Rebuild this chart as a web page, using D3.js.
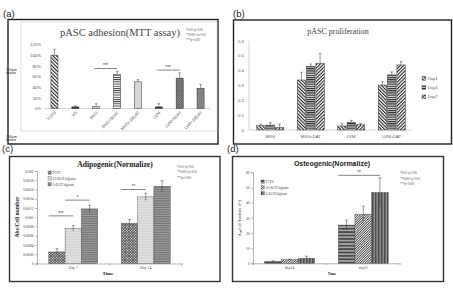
<!DOCTYPE html>
<html>
<head>
<meta charset="utf-8">
<script src="https://cdn.jsdelivr.net/npm/d3@7"></script>
<style>
body { margin: 0; background: #fff; }
svg { display: block; }
</style>
</head>
<body>
<script>
// ---- data ----
// (a) adhesion, % of TCPS
var adhCats = ["TCPS", "VS", "MVG", "MVG+5DAT", "MVG+10DAT", "LVM", "LVM+5DAT", "LVM+10DAT"];
var adhVals = [100, 3, 4, 64, 50, 3, 57, 38];
var adhErr  = [11, 2, 5, 6, 4, 6, 10, 7];
var adhTicks = [0, 20, 40, 60, 80, 100, 120];
var adhSig = [["MVG", "MVG+5DAT", 75, "***"], ["LVM", "LVM+5DAT", 72, "***"]];

// (b) proliferation
var prolCats = ["MVG", "MVG+DAT", "LVM", "LVM+DAT"];
var prolSeries = ["Day1", "Day4", "Day7"];
var prolDay1 = [0.029, 0.336, 0.027, 0.302];
var prolDay4 = [0.033, 0.428, 0.052, 0.37];
var prolDay7 = [0.016, 0.448, 0.035, 0.437];
var prolErr1 = [0.01, 0.052, 0.018, 0.023];
var prolErr4 = [0.017, 0.015, 0.013, 0.02];
var prolErr7 = [0.024, 0.067, 0.01, 0.022];
var prolTicks = [0, 0.1, 0.2, 0.3, 0.4, 0.5, 0.6];

// (c) adipogenic
var adiCats = ["Day 7", "Day 14"];
var adiSeries = ["TCPS", "10×DAT/alginate", "5×DAT/alginate"];
var adiTCPS = [0.00025, 0.00087];
var adi10 = [0.00076, 0.00144];
var adi5 = [0.00118, 0.00167];
var adiErrTCPS = [0.00007, 0.00008];
var adiErr10 = [0.00006, 0.00008];
var adiErr5 = [0.00008, 0.00012];
var adiTicks = d3.range(0, 0.00201, 0.0002);
var adiSig = [["Day 7", 0, 1, 0.00103, "***"], ["Day 7", 1, 2, 0.00137, "*"], ["Day 14", 0, 1, 0.0016, "**"]];

// (d) osteogenic
var ostCats = ["day14", "day21"];
var ostTCPS = [1.4, 25.2];
var ost10 = [2.4, 32.4];
var ost5 = [3.3, 46.7];
var ostErrTCPS = [0.3, 3.3];
var ostErr10 = [0.4, 5.3];
var ostErr5 = [1.4, 9.6];
var ostTicks = [0, 10, 20, 30, 40, 50, 60];
var ostSig = [["day21", 0, 2, 58, "**"]];

var pLabels = ["*0.01<p<0.05", "**0.001<p<0.01", "***p<0.001"];

var SANS = "Liberation Sans, Arial, sans-serif";
var SERIF = "Liberation Serif, Times New Roman, serif";

var svg = d3.select("body").append("svg")
    .attr("width", 453)
    .attr("height", 291);
var defs = svg.append("defs");

// stripes: angle 0 = vertical, 90 = horizontal
function stripe(id, bg, fg, size, lw, angle) {
    var p = defs.append("pattern").attr("id", id)
        .attr("patternUnits", "userSpaceOnUse")
        .attr("width", size).attr("height", size)
        .attr("patternTransform", "rotate(" + angle + ")");
    p.append("rect").attr("width", size).attr("height", size).attr("fill", bg);
    p.append("rect").attr("width", lw).attr("height", size).attr("fill", fg);
}
function cross(id, bg, fg, size, lw, angle) {
    var p = defs.append("pattern").attr("id", id)
        .attr("patternUnits", "userSpaceOnUse")
        .attr("width", size).attr("height", size)
        .attr("patternTransform", "rotate(" + angle + ")");
    p.append("rect").attr("width", size).attr("height", size).attr("fill", bg);
    p.append("rect").attr("width", lw).attr("height", size).attr("fill", fg);
    p.append("rect").attr("width", size).attr("height", lw).attr("fill", fg);
}
function dots(id, bg, fg, size, r) {
    var p = defs.append("pattern").attr("id", id)
        .attr("patternUnits", "userSpaceOnUse")
        .attr("width", size).attr("height", size);
    p.append("rect").attr("width", size).attr("height", size).attr("fill", bg);
    p.append("circle").attr("cx", size / 2).attr("cy", size / 2).attr("r", r).attr("fill", fg);
}

stripe("aBack", "#fff", "#222", 2.6, 1.1, -45);
cross("aDark", "#555", "#222", 1.6, 0.6, 45);
dots("aDots", "#ddd", "#888", 1.6, 0.45);
stripe("aHor", "#fff", "#333", 2.2, 0.9, 90);
dots("aLight", "#e4e4e4", "#aaa", 1.4, 0.4);
cross("aCross", "#9a9a9a", "#555", 1.8, 0.6, 45);
dots("aGrey", "#8a8a8a", "#6a6a6a", 1.4, 0.4);

stripe("bBack", "#fff", "#222", 2.4, 1.1, -45);
stripe("bHor", "#ddd", "#222", 2.2, 1.1, 90);
stripe("bFwd", "#fff", "#222", 2.4, 1.1, 45);

cross("cDark", "#fff", "#444", 1.9, 0.8, 45);
dots("cLight", "#f2f2f2", "#999", 1.6, 0.5);
stripe("cHor", "#bbb", "#707070", 1.8, 1.2, 90);

stripe("dHor", "#aaa", "#4a4a4a", 3.4, 1.8, 90);
stripe("dFwd", "#fff", "#333", 1.7, 0.8, 45);
stripe("dVer", "#8c8c8c", "#4c4c4c", 3, 1.5, 0);

function panelLabel(x, y, t) {
    svg.append("text").attr("x", x).attr("y", y).text(t)
        .attr("font-family", SANS).attr("font-size", 9.5).attr("fill", "#222");
}
function frame(x0, y0, x1, y1, col, sw) {
    svg.append("rect").attr("x", x0).attr("y", y0)
        .attr("width", x1 - x0).attr("height", y1 - y0)
        .attr("fill", "none").attr("stroke", col).attr("stroke-width", sw);
}
function errBar(g, cx, yTop, yBot, cap) {
    g.append("line").attr("x1", cx).attr("x2", cx).attr("y1", yTop).attr("y2", yBot)
        .attr("stroke", "#333").attr("stroke-width", 0.5);
    g.append("line").attr("x1", cx - cap).attr("x2", cx + cap).attr("y1", yTop).attr("y2", yTop)
        .attr("stroke", "#333").attr("stroke-width", 0.5);
}
function sigLine(g, x1, x2, y, t, fs) {
    g.append("line").attr("x1", x1).attr("x2", x2).attr("y1", y).attr("y2", y)
        .attr("stroke", "#333").attr("stroke-width", 0.6);
    g.append("text").attr("x", (x1 + x2) / 2).attr("y", y - 1.2).text(t)
        .attr("text-anchor", "middle").attr("font-family", SANS)
        .attr("font-size", fs).attr("fill", "#333");
}
function pLegend(x, y, dy, fs) {
    svg.append("g").selectAll("text").data(pLabels).enter().append("text")
        .attr("x", x).attr("y", function(d, i) { return y + i * dy; })
        .text(function(d) { return d; })
        .attr("font-family", SERIF).attr("font-size", fs).attr("fill", "#444");
}

// ================= (a) =================
panelLabel(3, 17, "(a)");
frame(8, 19.5, 218, 144, "#222", 1.4);
frame(21, 22, 217, 131, "#c8c8c8", 0.6);

var gA = svg.append("g");
var xA = d3.scaleBand().domain(adhCats).range([44, 211]).paddingInner(0.66).paddingOuter(0.33);
var yA = d3.scaleLinear().domain([0, 120]).range([108.5, 44.5]);
var fillsA = ["aBack", "aDark", "aDots", "aHor", "aLight", "aDark", "aCross", "aGrey"];

gA.append("text").attr("x", 120).attr("y", 36).text("pASC adhesion(MTT assay)")
    .attr("text-anchor", "middle").attr("font-family", SERIF).attr("font-size", 10.5).attr("fill", "#444");

var axA = gA.append("g").attr("transform", "translate(41,0)")
    .call(d3.axisLeft(yA).tickValues(adhTicks).tickSize(0).tickPadding(0)
        .tickFormat(function(d) { return d + "%"; }));
axA.select(".domain").remove();
axA.selectAll("text").attr("font-family", SANS).attr("font-size", 4.3).attr("fill", "#555");

gA.append("line").attr("x1", 44).attr("x2", 211).attr("y1", yA(0)).attr("y2", yA(0))
    .attr("stroke", "#bbb").attr("stroke-width", 0.6);

gA.selectAll(".bar").data(adhCats).enter().append("rect")
    .attr("x", function(d) { return xA(d); })
    .attr("y", function(d, i) { return yA(adhVals[i]); })
    .attr("width", xA.bandwidth())
    .attr("height", function(d, i) { return yA(0) - yA(adhVals[i]); })
    .attr("fill", function(d, i) { return "url(#" + fillsA[i] + ")"; })
    .attr("stroke", "#333").attr("stroke-width", 0.5);

adhCats.forEach(function(c, i) {
    var cx = xA(c) + xA.bandwidth() / 2;
    errBar(gA, cx, yA(adhVals[i] + adhErr[i]), yA(adhVals[i]), 1.3);
    gA.append("text").attr("transform", "translate(" + (cx + 2) + "," + 113 + ") rotate(-45)")
        .attr("text-anchor", "end").text(c)
        .attr("font-family", SANS).attr("font-size", 4.2).attr("fill", "#555");
});
adhSig.forEach(function(s) {
    sigLine(gA, xA(s[0]) + xA.bandwidth() / 2 - 2, xA(s[1]) + xA.bandwidth() / 2, yA(s[2]), s[3], 4.5);
});
pLegend(186, 30.5, 5, 3);

// scale bar leftovers of the micrograph
svg.append("text").attr("x", 6).attr("y", 71).text("100μm")
    .attr("font-family", SANS).attr("font-size", 3.6).attr("fill", "#333");
svg.append("line").attr("x1", 6).attr("x2", 16).attr("y1", 73).attr("y2", 73).attr("stroke", "#333").attr("stroke-width", 0.8);
svg.append("text").attr("x", 6).attr("y", 138).text("100μm")
    .attr("font-family", SANS).attr("font-size", 3.6).attr("fill", "#333");
svg.append("line").attr("x1", 6).attr("x2", 16).attr("y1", 140).attr("y2", 140).attr("stroke", "#333").attr("stroke-width", 0.8);

// ================= (b) =================
panelLabel(233, 17, "(b)");
frame(233.5, 20, 451.5, 144, "#222", 1.4);

var gB = svg.append("g");
var xB = d3.scaleBand().domain(prolCats).range([250, 412]);
var xBi = d3.scaleBand().domain(prolSeries).range([-13.5, 13.5]).paddingInner(0.1);
var yB = d3.scaleLinear().domain([0, 0.6]).range([130, 40.7]);
var prolVals = [prolDay1, prolDay4, prolDay7];
var prolErrs = [prolErr1, prolErr4, prolErr7];
var fillsB = ["bBack", "bHor", "bFwd"];

gB.append("text").attr("x", 338).attr("y", 34).text("pASC proliferation")
    .attr("text-anchor", "middle").attr("font-family", SERIF).attr("font-size", 8).attr("fill", "#444");

var axB = gB.append("g").attr("transform", "translate(244,0)")
    .call(d3.axisLeft(yB).tickValues(prolTicks).tickSize(0).tickPadding(0)
        .tickFormat(function(d) { return d === 0 ? "0" : d3.format(".1f")(d); }));
axB.select(".domain").remove();
axB.selectAll("text").attr("font-family", SANS).attr("font-size", 4.3).attr("fill", "#555");

gB.append("line").attr("x1", 249).attr("x2", 249).attr("y1", yB(0.6)).attr("y2", yB(0))
    .attr("stroke", "#bbb").attr("stroke-width", 0.6);
gB.append("line").attr("x1", 249).attr("x2", 412).attr("y1", yB(0)).attr("y2", yB(0))
    .attr("stroke", "#bbb").attr("stroke-width", 0.6);

prolSeries.forEach(function(s, k) {
    gB.append("g").selectAll("rect").data(prolCats).enter().append("rect")
        .attr("x", function(d) { return xB(d) + xB.bandwidth() / 2 + xBi(s); })
        .attr("y", function(d, i) { return yB(prolVals[k][i]); })
        .attr("width", xBi.bandwidth())
        .attr("height", function(d, i) { return yB(0) - yB(prolVals[k][i]); })
        .attr("fill", "url(#" + fillsB[k] + ")")
        .attr("stroke", "#333").attr("stroke-width", 0.5);
    prolCats.forEach(function(c, i) {
        var cx = xB(c) + xB.bandwidth() / 2 + xBi(s) + xBi.bandwidth() / 2;
        errBar(gB, cx, yB(prolVals[k][i] + prolErrs[k][i]), yB(prolVals[k][i]), 1.3);
    });
});
gB.selectAll(".xl").data(prolCats).enter().append("text")
    .attr("x", function(d) { return xB(d) + xB.bandwidth() / 2; })
    .attr("y", 137.5).attr("text-anchor", "middle")
    .text(function(d) { return d; })
    .attr("font-family", SANS).attr("font-size", 4.2).attr("fill", "#555");

prolSeries.forEach(function(s, k) {
    gB.append("rect").attr("x", 422).attr("y", 76.5 + k * 9.2).attr("width", 3.8).attr("height", 3.8)
        .attr("fill", "url(#" + fillsB[k] + ")").attr("stroke", "#333").attr("stroke-width", 0.4);
    gB.append("text").attr("x", 427.5).attr("y", 80 + k * 9.2).text(s)
        .attr("font-family", SANS).attr("font-size", 4.3).attr("fill", "#555");
});

// ================= (c) / (d) grouped panels =================
function grouped(o) {
    var g = svg.append("g");
    var x = d3.scaleBand().domain(o.cats).range(o.xr);
    var xi = d3.scaleBand().domain(d3.range(o.vals.length)).range([-o.gw / 2, o.gw / 2]);
    var y = d3.scaleLinear().domain(o.dom).range(o.yr);

    var ax = g.append("g").attr("transform", "translate(" + o.xr[0] + ",0)")
        .call(d3.axisLeft(y).tickValues(o.ticks).tickSize(1.8).tickPadding(1.5)
            .tickFormat(o.fmt));
    ax.select(".domain").attr("stroke", "#666").attr("stroke-width", 0.5);
    ax.selectAll(".tick line").attr("stroke", "#666").attr("stroke-width", 0.5);
    ax.selectAll("text").attr("font-family", SERIF).attr("font-size", o.tfs).attr("fill", "#444");

    var axX = g.append("g").attr("transform", "translate(0," + o.yr[0] + ")")
        .call(d3.axisBottom(x).tickSize(0).tickPadding(3));
    axX.select(".domain").attr("stroke", "#666").attr("stroke-width", 0.5);
    axX.selectAll("text").attr("font-family", SERIF).attr("font-size", o.tfs).attr("fill", "#444");
    // category dividers
    g.selectAll(".div").data(o.cats.concat(["end"])).enter().append("line")
        .attr("x1", function(d, i) { return o.xr[0] + i * x.step(); })
        .attr("x2", function(d, i) { return o.xr[0] + i * x.step(); })
        .attr("y1", o.yr[0]).attr("y2", o.yr[0] + 1.8)
        .attr("stroke", "#666").attr("stroke-width", 0.5);

    o.vals.forEach(function(vals, k) {
        g.append("g").selectAll("rect").data(o.cats).enter().append("rect")
            .attr("x", function(d) { return x(d) + x.bandwidth() / 2 + xi(k); })
            .attr("y", function(d, i) { return y(vals[i]); })
            .attr("width", xi.bandwidth())
            .attr("height", function(d, i) { return y(0) - y(vals[i]); })
            .attr("fill", "url(#" + o.fills[k] + ")")
            .attr("stroke", "#444").attr("stroke-width", 0.4);
    });
    o.vals.forEach(function(vals, k) {
        o.cats.forEach(function(c, i) {
            var cx = x(c) + x.bandwidth() / 2 + xi(k) + xi.bandwidth() / 2;
            errBar(g, cx, y(vals[i] + o.errs[k][i]), y(vals[i] - o.errs[k][i]), 1.5);
        });
    });
    o.sig.forEach(function(s) {
        var base = x(s[0]) + x.bandwidth() / 2;
        sigLine(g, base + xi(s[1]), base + xi(s[2]) + xi.bandwidth() / 2, y(s[3]), s[4], 4.5);
    });
    o.series.forEach(function(s, k) {
        g.append("rect").attr("x", o.leg[0]).attr("y", o.leg[1] + k * o.leg[2] - 3)
            .attr("width", 3.3).attr("height", 3.3)
            .attr("fill", "url(#" + o.fills[k] + ")").attr("stroke", "#444").attr("stroke-width", 0.3);
        g.append("text").attr("x", o.leg[0] + 4.5).attr("y", o.leg[1] + k * o.leg[2])
            .text(s).attr("font-family", SERIF).attr("font-size", 3.4).attr("fill", "#444");
    });
    return g;
}

// (c)
panelLabel(2, 152, "(c)");
frame(9.5, 156.5, 220, 281.5, "#333", 1.4);
var gC = grouped({
    cats: adiCats, series: adiSeries, vals: [adiTCPS, adi10, adi5], errs: [adiErrTCPS, adiErr10, adiErr5],
    xr: [37, 182], yr: [263.5, 171], dom: [0, 0.002], ticks: adiTicks, gw: 49,
    fmt: d3.format("~g"), tfs: 3.8, fills: ["cDark", "cLight", "cHor"], sig: adiSig, leg: [48, 174, 5.8]
});
gC.append("text").attr("x", 115).attr("y", 166.5).text("Adipogenic(Normalize)")
    .attr("text-anchor", "middle").attr("font-family", SERIF).attr("font-weight", "bold")
    .attr("font-size", 7.6).attr("fill", "#222");
gC.append("text").attr("transform", "translate(19,217) rotate(-90)").text("Abs/Cell number")
    .attr("text-anchor", "middle").attr("font-family", SERIF).attr("font-weight", "bold")
    .attr("font-size", 5.6).attr("fill", "#222");
gC.append("text").attr("x", 108).attr("y", 275).text("Time")
    .attr("text-anchor", "middle").attr("font-family", SERIF).attr("font-weight", "bold")
    .attr("font-size", 5).attr("fill", "#222");
pLegend(177, 168, 5.3, 3);

// (d)
panelLabel(227, 152, "(d)");
frame(232.5, 156.5, 443.5, 281.5, "#333", 1.4);
var gD = grouped({
    cats: ostCats, series: adiSeries, vals: [ostTCPS, ost10, ost5], errs: [ostErrTCPS, ostErr10, ostErr5],
    xr: [253, 400], yr: [263.3, 172.3], dom: [0, 60], ticks: ostTicks, gw: 50,
    fmt: d3.format("d"), tfs: 3.8, fills: ["dHor", "dFwd", "dVer"], sig: ostSig, leg: [261, 183, 5.8]
});
gD.append("text").attr("x", 332).attr("y", 165.5).text("Osteogenic(Normalize)")
    .attr("text-anchor", "middle").attr("font-family", SANS).attr("font-weight", "bold")
    .attr("font-size", 7).attr("fill", "#222");
gD.append("text").attr("transform", "translate(240.5,218) rotate(-90)").text("A\u2085\u2087\u2080/Cell Number(x 10\u207B\u2075)")
    .attr("text-anchor", "middle").attr("font-family", SERIF).attr("font-size", 3.5).attr("fill", "#222");
gD.append("text").attr("x", 332).attr("y", 275).text("Time")
    .attr("text-anchor", "middle").attr("font-family", SERIF).attr("font-weight", "bold")
    .attr("font-size", 3.8).attr("fill", "#222");
pLegend(400, 174, 5.5, 3);
</script>
</body>
</html>
